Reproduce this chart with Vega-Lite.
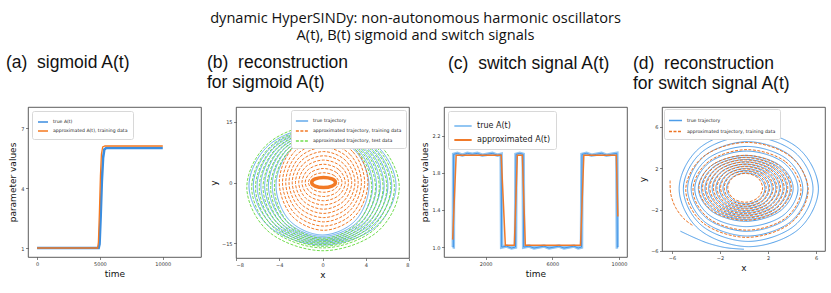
{
"$schema":"https://vega.github.io/schema/vega-lite/v6.json",
"background":"white",
"padding":{"left":5,"top":11,"right":2,"bottom":2},
"title":{"text":["dynamic HyperSINDy: non-autonomous harmonic oscillators","A(t), B(t) sigmoid and switch signals"],"font":"Open Sans","fontSize":14.6,"fontWeight":"normal","anchor":"middle","frame":"bounds","lineHeight":16.5,"offset":11,"color":"#111"},
"config":{
 "view":{"stroke":"#333","strokeWidth":0.8},
 "axis":{"grid":false,"domain":false,"labelFont":"DejaVu Sans","labelFontSize":5,"labelColor":"#333","tickColor":"#333","tickSize":2.5,"tickWidth":0.6,"labelPadding":1.5,"titleFont":"DejaVu Sans","titleFontSize":9,"titleFontWeight":"normal","titleColor":"#111","titlePadding":3},
 "title":{"font":"Liberation Sans","fontSize":17.5,"fontWeight":"normal","anchor":"start","frame":"group","color":"#111"},
 "legend":{"title":null,"fillColor":"white","strokeColor":"#d8d8d8","padding":4,"cornerRadius":2,"labelFont":"DejaVu Sans","labelFontSize":4.6,"labelColor":"#222","symbolType":"stroke","symbolSize":110,"symbolStrokeWidth":1.5,"labelOffset":4,"rowPadding":3,"labelLimit":300}
},
"resolve":{"scale":{"color":"independent","strokeDash":"independent"},"legend":{"color":"independent","strokeDash":"independent"}},
"bounds":"flush",
"spacing":35,
"hconcat":[
 {"width":173,"height":150,
  "title":{"text":"(a)\u00a0 sigmoid A(t)","dx":-22,"offset":36},
  "data":{"values":[
   {"s":"true A(t)","t":0,"v":1.0},{"s":"true A(t)","t":2500,"v":1.0},{"s":"true A(t)","t":4900,"v":1.0},{"s":"true A(t)","t":4970,"v":1.2},{"s":"true A(t)","t":5060,"v":2.6},{"s":"true A(t)","t":5150,"v":4.3},{"s":"true A(t)","t":5250,"v":5.5},{"s":"true A(t)","t":5350,"v":5.93},{"s":"true A(t)","t":5500,"v":6.0},{"s":"true A(t)","t":7500,"v":6.0},{"s":"true A(t)","t":10000,"v":6.0},
   {"s":"approximated A(t), training data","t":0,"v":1.0},{"s":"approximated A(t), training data","t":4820,"v":1.0},{"s":"approximated A(t), training data","t":4880,"v":1.3},{"s":"approximated A(t), training data","t":4960,"v":2.8},{"s":"approximated A(t), training data","t":5040,"v":4.6},{"s":"approximated A(t), training data","t":5120,"v":5.7},{"s":"approximated A(t), training data","t":5220,"v":6.05},{"s":"approximated A(t), training data","t":5400,"v":6.1},{"s":"approximated A(t), training data","t":7500,"v":6.1},{"s":"approximated A(t), training data","t":10000,"v":6.1}
  ]},
  "encoding":{
   "x":{"field":"t","type":"quantitative","scale":{"domain":[-720,13040],"nice":false,"zero":false},"axis":{"values":[0,5000,10000],"format":"d","title":"time"}},
   "y":{"field":"v","type":"quantitative","scale":{"domain":[0.55,8.05],"nice":false,"zero":false},"axis":{"values":[1,4,7],"title":"parameter values"}},
   "color":{"field":"s","type":"nominal","scale":{"domain":["true A(t)","approximated A(t), training data"],"range":["#3b8ddf","#f5781f"]},"legend":{"orient":"top-left","offset":4,"rowPadding":-1.5,"padding":5,"symbolSize":100}}
  },
  "layer":[
   {"transform":[{"filter":"datum.s == 'true A(t)'"}],"mark":{"type":"line","strokeWidth":2.6}},
   {"transform":[{"filter":"datum.s != 'true A(t)'"}],"mark":{"type":"line","strokeWidth":1.3}}
  ]
 },
 {"width":173,"height":151,
  "title":{"text":["(b)\u00a0 reconstruction","\u00a0for sigmoid A(t)"],"dx":-29,"offset":16,"lineHeight":20},
  "data":{"values":[
   {"s":"t","r":1,"x":4.3,"y":-0.8},{"s":"t","r":1,"x":3.04,"y":7.83},{"s":"t","r":1,"x":0,"y":11.4},{"s":"t","r":1,"x":-3.04,"y":7.83},{"s":"t","r":1,"x":-4.3,"y":-0.8},{"s":"t","r":1,"x":-3.04,"y":-9.43},{"s":"t","r":1,"x":0,"y":-13.0},{"s":"t","r":1,"x":3.04,"y":-9.43},
   {"s":"t","r":2,"x":4.65,"y":-0.8},{"s":"t","r":2,"x":3.29,"y":8.07},{"s":"t","r":2,"x":0,"y":11.75},{"s":"t","r":2,"x":-3.29,"y":8.07},{"s":"t","r":2,"x":-4.65,"y":-0.8},{"s":"t","r":2,"x":-3.29,"y":-9.67},{"s":"t","r":2,"x":0,"y":-13.35},{"s":"t","r":2,"x":3.29,"y":-9.67},
   {"s":"t","r":3,"x":5.0,"y":-0.8},{"s":"t","r":3,"x":3.54,"y":8.32},{"s":"t","r":3,"x":0,"y":12.1},{"s":"t","r":3,"x":-3.54,"y":8.32},{"s":"t","r":3,"x":-5.0,"y":-0.8},{"s":"t","r":3,"x":-3.54,"y":-9.92},{"s":"t","r":3,"x":0,"y":-13.7},{"s":"t","r":3,"x":3.54,"y":-9.92},
   {"s":"t","r":4,"x":5.35,"y":-0.8},{"s":"t","r":4,"x":3.78,"y":8.57},{"s":"t","r":4,"x":0,"y":12.45},{"s":"t","r":4,"x":-3.78,"y":8.57},{"s":"t","r":4,"x":-5.35,"y":-0.8},{"s":"t","r":4,"x":-3.78,"y":-10.17},{"s":"t","r":4,"x":0,"y":-14.05},{"s":"t","r":4,"x":3.78,"y":-10.17},
   {"s":"t","r":5,"x":5.7,"y":-0.8},{"s":"t","r":5,"x":4.03,"y":8.82},{"s":"t","r":5,"x":0,"y":12.8},{"s":"t","r":5,"x":-4.03,"y":8.82},{"s":"t","r":5,"x":-5.7,"y":-0.8},{"s":"t","r":5,"x":-4.03,"y":-10.42},{"s":"t","r":5,"x":0,"y":-14.4},{"s":"t","r":5,"x":4.03,"y":-10.42},
   {"s":"t","r":6,"x":6.05,"y":-0.8},{"s":"t","r":6,"x":4.28,"y":9.06},{"s":"t","r":6,"x":0,"y":13.15},{"s":"t","r":6,"x":-4.28,"y":9.06},{"s":"t","r":6,"x":-6.05,"y":-0.8},{"s":"t","r":6,"x":-4.28,"y":-10.66},{"s":"t","r":6,"x":0,"y":-14.75},{"s":"t","r":6,"x":4.28,"y":-10.66},
   {"s":"t","r":7,"x":6.4,"y":-0.8},{"s":"t","r":7,"x":4.52,"y":9.31},{"s":"t","r":7,"x":0,"y":13.5},{"s":"t","r":7,"x":-4.52,"y":9.31},{"s":"t","r":7,"x":-6.4,"y":-0.8},{"s":"t","r":7,"x":-4.52,"y":-10.91},{"s":"t","r":7,"x":0,"y":-15.1},{"s":"t","r":7,"x":4.52,"y":-10.91},
   {"s":"t","r":8,"x":6.8,"y":-0.8},{"s":"t","r":8,"x":4.81,"y":9.59},{"s":"t","r":8,"x":0,"y":13.9},{"s":"t","r":8,"x":-4.81,"y":9.59},{"s":"t","r":8,"x":-6.8,"y":-0.8},{"s":"t","r":8,"x":-4.81,"y":-11.19},{"s":"t","r":8,"x":0,"y":-15.5},{"s":"t","r":8,"x":4.81,"y":-11.19},
   {"s":"o","r":"h","x":1.2,"y":0},{"s":"o","r":"h","x":0.88,"y":0.88},{"s":"o","r":"h","x":0.1,"y":1.25},{"s":"o","r":"h","x":-0.68,"y":0.88},{"s":"o","r":"h","x":-1.0,"y":0},{"s":"o","r":"h","x":-0.68,"y":-0.88},{"s":"o","r":"h","x":0.1,"y":-1.25},{"s":"o","r":"h","x":0.88,"y":-0.88},
   {"s":"o","r":1,"x":1.5,"y":0},{"s":"o","r":1,"x":1.09,"y":1.71},{"s":"o","r":1,"x":0.1,"y":2.42},{"s":"o","r":1,"x":-0.89,"y":1.71},{"s":"o","r":1,"x":-1.3,"y":0},{"s":"o","r":1,"x":-0.89,"y":-1.71},{"s":"o","r":1,"x":0.1,"y":-2.42},{"s":"o","r":1,"x":1.09,"y":-1.71},
   {"s":"o","r":2,"x":1.8,"y":0},{"s":"o","r":2,"x":1.3,"y":2.45},{"s":"o","r":2,"x":0.1,"y":3.47},{"s":"o","r":2,"x":-1.1,"y":2.45},{"s":"o","r":2,"x":-1.6,"y":0},{"s":"o","r":2,"x":-1.1,"y":-2.45},{"s":"o","r":2,"x":0.1,"y":-3.47},{"s":"o","r":2,"x":1.3,"y":-2.45},
   {"s":"o","r":3,"x":2.1,"y":0},{"s":"o","r":3,"x":1.51,"y":3.2},{"s":"o","r":3,"x":0.1,"y":4.52},{"s":"o","r":3,"x":-1.31,"y":3.2},{"s":"o","r":3,"x":-1.9,"y":0},{"s":"o","r":3,"x":-1.31,"y":-3.2},{"s":"o","r":3,"x":0.1,"y":-4.52},{"s":"o","r":3,"x":1.51,"y":-3.2},
   {"s":"o","r":4,"x":2.4,"y":0},{"s":"o","r":4,"x":1.73,"y":3.93},{"s":"o","r":4,"x":0.1,"y":5.56},{"s":"o","r":4,"x":-1.53,"y":3.93},{"s":"o","r":4,"x":-2.2,"y":0},{"s":"o","r":4,"x":-1.53,"y":-3.93},{"s":"o","r":4,"x":0.1,"y":-5.56},{"s":"o","r":4,"x":1.73,"y":-3.93},
   {"s":"o","r":5,"x":2.7,"y":0},{"s":"o","r":5,"x":1.94,"y":4.67},{"s":"o","r":5,"x":0.1,"y":6.61},{"s":"o","r":5,"x":-1.74,"y":4.67},{"s":"o","r":5,"x":-2.5,"y":0},{"s":"o","r":5,"x":-1.74,"y":-4.67},{"s":"o","r":5,"x":0.1,"y":-6.61},{"s":"o","r":5,"x":1.94,"y":-4.67},
   {"s":"o","r":6,"x":3.0,"y":0},{"s":"o","r":6,"x":2.15,"y":5.42},{"s":"o","r":6,"x":0.1,"y":7.66},{"s":"o","r":6,"x":-1.95,"y":5.42},{"s":"o","r":6,"x":-2.8,"y":0},{"s":"o","r":6,"x":-1.95,"y":-5.42},{"s":"o","r":6,"x":0.1,"y":-7.66},{"s":"o","r":6,"x":2.15,"y":-5.42},
   {"s":"o","r":7,"x":3.3,"y":0},{"s":"o","r":7,"x":2.36,"y":6.15},{"s":"o","r":7,"x":0.1,"y":8.7},{"s":"o","r":7,"x":-2.16,"y":6.15},{"s":"o","r":7,"x":-3.1,"y":0},{"s":"o","r":7,"x":-2.16,"y":-6.15},{"s":"o","r":7,"x":0.1,"y":-8.7},{"s":"o","r":7,"x":2.36,"y":-6.15},
   {"s":"o","r":8,"x":3.6,"y":0},{"s":"o","r":8,"x":2.57,"y":6.89},{"s":"o","r":8,"x":0.1,"y":9.75},{"s":"o","r":8,"x":-2.37,"y":6.89},{"s":"o","r":8,"x":-3.4,"y":0},{"s":"o","r":8,"x":-2.37,"y":-6.89},{"s":"o","r":8,"x":0.1,"y":-9.75},{"s":"o","r":8,"x":2.57,"y":-6.89},
   {"s":"o","r":9,"x":3.9,"y":0},{"s":"o","r":9,"x":2.79,"y":7.64},{"s":"o","r":9,"x":0.1,"y":10.8},{"s":"o","r":9,"x":-2.59,"y":7.64},{"s":"o","r":9,"x":-3.7,"y":0},{"s":"o","r":9,"x":-2.59,"y":-7.64},{"s":"o","r":9,"x":0.1,"y":-10.8},{"s":"o","r":9,"x":2.79,"y":-7.64},
   {"s":"o","r":10,"x":4.2,"y":0},{"s":"o","r":10,"x":3.0,"y":8.37},{"s":"o","r":10,"x":0.1,"y":11.84},{"s":"o","r":10,"x":-2.8,"y":8.37},{"s":"o","r":10,"x":-4.0,"y":0},{"s":"o","r":10,"x":-2.8,"y":-8.37},{"s":"o","r":10,"x":0.1,"y":-11.84},{"s":"o","r":10,"x":3.0,"y":-8.37},
   {"s":"g","r":1,"x":4.55,"y":-1.2},{"s":"g","r":1,"x":3.23,"y":7.71},{"s":"g","r":1,"x":0.05,"y":11.4},{"s":"g","r":1,"x":-3.13,"y":7.71},{"s":"g","r":1,"x":-4.45,"y":-1.2},{"s":"g","r":1,"x":-3.13,"y":-10.11},{"s":"g","r":1,"x":0.05,"y":-13.8},{"s":"g","r":1,"x":3.23,"y":-10.11},
   {"s":"g","r":2,"x":4.9,"y":-1.2},{"s":"g","r":2,"x":3.48,"y":7.99},{"s":"g","r":2,"x":0.05,"y":11.8},{"s":"g","r":2,"x":-3.38,"y":7.99},{"s":"g","r":2,"x":-4.8,"y":-1.2},{"s":"g","r":2,"x":-3.38,"y":-10.39},{"s":"g","r":2,"x":0.05,"y":-14.2},{"s":"g","r":2,"x":3.48,"y":-10.39},
   {"s":"g","r":3,"x":5.25,"y":-1.2},{"s":"g","r":3,"x":3.73,"y":8.27},{"s":"g","r":3,"x":0.05,"y":12.2},{"s":"g","r":3,"x":-3.63,"y":8.27},{"s":"g","r":3,"x":-5.15,"y":-1.2},{"s":"g","r":3,"x":-3.63,"y":-10.67},{"s":"g","r":3,"x":0.05,"y":-14.6},{"s":"g","r":3,"x":3.73,"y":-10.67},
   {"s":"g","r":4,"x":5.6,"y":-1.2},{"s":"g","r":4,"x":3.97,"y":8.56},{"s":"g","r":4,"x":0.05,"y":12.6},{"s":"g","r":4,"x":-3.87,"y":8.56},{"s":"g","r":4,"x":-5.5,"y":-1.2},{"s":"g","r":4,"x":-3.87,"y":-10.96},{"s":"g","r":4,"x":0.05,"y":-15.0},{"s":"g","r":4,"x":3.97,"y":-10.96},
   {"s":"g","r":5,"x":5.95,"y":-1.2},{"s":"g","r":5,"x":4.22,"y":8.84},{"s":"g","r":5,"x":0.05,"y":13.0},{"s":"g","r":5,"x":-4.12,"y":8.84},{"s":"g","r":5,"x":-5.85,"y":-1.2},{"s":"g","r":5,"x":-4.12,"y":-11.24},{"s":"g","r":5,"x":0.05,"y":-15.4},{"s":"g","r":5,"x":4.22,"y":-11.24},
   {"s":"g","r":6,"x":6.3,"y":-1.2},{"s":"g","r":6,"x":4.47,"y":9.12},{"s":"g","r":6,"x":0.05,"y":13.4},{"s":"g","r":6,"x":-4.37,"y":9.12},{"s":"g","r":6,"x":-6.2,"y":-1.2},{"s":"g","r":6,"x":-4.37,"y":-11.52},{"s":"g","r":6,"x":0.05,"y":-15.8},{"s":"g","r":6,"x":4.47,"y":-11.52},
   {"s":"g","r":7,"x":6.65,"y":-1.2},{"s":"g","r":7,"x":4.72,"y":9.41},{"s":"g","r":7,"x":0.05,"y":13.8},{"s":"g","r":7,"x":-4.62,"y":9.41},{"s":"g","r":7,"x":-6.55,"y":-1.2},{"s":"g","r":7,"x":-4.62,"y":-11.81},{"s":"g","r":7,"x":0.05,"y":-16.2},{"s":"g","r":7,"x":4.72,"y":-11.81},
   {"s":"g","r":8,"x":7.1,"y":-1.2},{"s":"g","r":8,"x":5.03,"y":9.9},{"s":"g","r":8,"x":0.05,"y":14.5},{"s":"g","r":8,"x":-4.93,"y":9.9},{"s":"g","r":8,"x":-7.0,"y":-1.2},{"s":"g","r":8,"x":-4.93,"y":-12.3},{"s":"g","r":8,"x":0.05,"y":-16.9},{"s":"g","r":8,"x":5.03,"y":-12.3}
  ]},
  "encoding":{
   "x":{"field":"x","type":"quantitative","scale":{"domain":[-8,8],"nice":false,"zero":false},"axis":{"values":[-8,-4,0,4,8],"title":"x"}},
   "y":{"field":"y","type":"quantitative","scale":{"domain":[-18.7,18.7],"nice":false,"zero":false},"axis":{"values":[-15,0,15],"title":"y"}},
   "color":{"field":"s","type":"nominal","scale":{"domain":["t","o","g"],"range":["#64abec","#f27a26","#72dd4e"]},"legend":{"orient":"top-right","offset":3,"labelExpr":"datum.label == 't' ? 'true trajectory' : datum.label == 'o' ? 'approximated trajectory, training data' : 'approximated trajectory, test data'","symbolSize":150,"rowPadding":-4}},
   "detail":{"field":"r","type":"nominal"},
   "order":{"value":null}
  },
  "layer":[
   {"transform":[{"filter":"datum.s == 't'"}],"mark":{"type":"line","interpolate":"cardinal-closed","strokeWidth":1},"encoding":{"strokeDash":{"field":"s","type":"nominal","scale":{"domain":["t","o","g"],"range":[[1,0],[3,1.5],[3,1.5]]},"legend":{"orient":"top-right","offset":3,"labelExpr":"datum.label == 't' ? 'true trajectory' : datum.label == 'o' ? 'approximated trajectory, training data' : 'approximated trajectory, test data'","symbolSize":150,"rowPadding":-4}}}},
   {"transform":[{"filter":"datum.r == 'h'"}],"mark":{"type":"line","interpolate":"cardinal-closed","strokeWidth":3.5}},
   {"transform":[{"filter":"datum.s == 'o' && datum.r != 'h'"}],"mark":{"type":"line","interpolate":"cardinal-closed","strokeWidth":1},"encoding":{"strokeDash":{"field":"s","type":"nominal"}}},
   {"transform":[{"filter":"datum.s == 'g'"}],"mark":{"type":"line","interpolate":"cardinal-closed","strokeWidth":1},"encoding":{"strokeDash":{"field":"s","type":"nominal"}}}
  ]
 },
 {"width":183,"height":150,
  "title":{"text":"(c)\u00a0 switch signal A(t)","dx":4,"offset":35},
  "data":{"values":[
   {"s":"true A(t)","t":20,"v":1.0},{"s":"true A(t)","t":60,"v":1.0},{"s":"true A(t)","t":80,"v":2.0},{"s":"true A(t)","t":300,"v":2.01},{"s":"true A(t)","t":600,"v":1.99},{"s":"true A(t)","t":900,"v":2.01},{"s":"true A(t)","t":1200,"v":2.0},{"s":"true A(t)","t":1500,"v":2.01},{"s":"true A(t)","t":1800,"v":1.99},{"s":"true A(t)","t":2100,"v":2.0},{"s":"true A(t)","t":2400,"v":2.01},{"s":"true A(t)","t":2700,"v":1.99},{"s":"true A(t)","t":2930,"v":2.0},
   {"s":"true A(t)","t":2960,"v":1.0},{"s":"true A(t)","t":3250,"v":1.01},{"s":"true A(t)","t":3550,"v":0.99},{"s":"true A(t)","t":3790,"v":1.0},
   {"s":"true A(t)","t":3820,"v":2.0},{"s":"true A(t)","t":4050,"v":2.01},{"s":"true A(t)","t":4250,"v":2.0},
   {"s":"true A(t)","t":4280,"v":1.0},{"s":"true A(t)","t":4600,"v":1.01},{"s":"true A(t)","t":4900,"v":0.99},{"s":"true A(t)","t":5200,"v":1.0},{"s":"true A(t)","t":5500,"v":1.01},{"s":"true A(t)","t":5800,"v":0.99},{"s":"true A(t)","t":6100,"v":1.0},{"s":"true A(t)","t":6400,"v":1.01},{"s":"true A(t)","t":6700,"v":0.99},{"s":"true A(t)","t":7000,"v":1.0},{"s":"true A(t)","t":7300,"v":1.01},{"s":"true A(t)","t":7550,"v":0.99},{"s":"true A(t)","t":7750,"v":1.0},
   {"s":"true A(t)","t":7780,"v":2.0},{"s":"true A(t)","t":8050,"v":2.01},{"s":"true A(t)","t":8350,"v":1.99},{"s":"true A(t)","t":8650,"v":2.0},{"s":"true A(t)","t":8950,"v":2.01},{"s":"true A(t)","t":9250,"v":1.99},{"s":"true A(t)","t":9550,"v":2.0},{"s":"true A(t)","t":9870,"v":2.01},{"s":"true A(t)","t":9900,"v":1.0},{"s":"true A(t)","t":9950,"v":1.0},
   {"s":"approximated A(t)","t":20,"v":1.08},{"s":"approximated A(t)","t":230,"v":1.99},{"s":"approximated A(t)","t":1000,"v":1.99},{"s":"approximated A(t)","t":2000,"v":1.99},{"s":"approximated A(t)","t":2930,"v":1.99},{"s":"approximated A(t)","t":3180,"v":1.02},{"s":"approximated A(t)","t":3720,"v":1.02},{"s":"approximated A(t)","t":3900,"v":1.99},{"s":"approximated A(t)","t":4200,"v":1.99},{"s":"approximated A(t)","t":4380,"v":1.02},{"s":"approximated A(t)","t":6000,"v":1.02},{"s":"approximated A(t)","t":7690,"v":1.02},{"s":"approximated A(t)","t":7890,"v":1.99},{"s":"approximated A(t)","t":9000,"v":1.99},{"s":"approximated A(t)","t":9840,"v":1.99},{"s":"approximated A(t)","t":9930,"v":1.33}
  ]},
  "encoding":{
   "x":{"field":"t","type":"quantitative","scale":{"domain":[-500,10480],"nice":false,"zero":false},"axis":{"values":[2000,6000,10000],"format":"d","title":"time"}},
   "y":{"field":"v","type":"quantitative","scale":{"domain":[0.893,2.51],"nice":false,"zero":false},"axis":{"values":[1.0,1.4,1.8,2.2],"format":".1f","title":"parameter values"}}
  },
  "layer":[
   {"transform":[{"filter":"datum.s == 'true A(t)'"}],"mark":{"type":"line","strokeWidth":3.5},"encoding":{"color":{"field":"s","type":"nominal","scale":{"domain":["true A(t)","approximated A(t)"],"range":["#92c6f3","#f07a2a"]},"legend":{"orient":"top-left","offset":4,"labelFontSize":8,"symbolSize":300,"symbolStrokeWidth":2,"rowPadding":-4,"padding":5}}}},
   {"transform":[{"filter":"datum.s == 'true A(t)'"}],"mark":{"type":"line","strokeWidth":0.9,"color":"#3a8de4"}},
   {"transform":[{"filter":"datum.s != 'true A(t)'"}],"mark":{"type":"line","strokeWidth":1.5},"encoding":{"color":{"field":"s","type":"nominal"}}}
  ]
 },
 {"width":163,"height":144,
  "title":{"text":["(d)\u00a0 reconstruction","for switch signal A(t)"],"dx":-29,"offset":15,"lineHeight":20},
  "data":{"values":[
   {"s":"t","r":1,"x":1.75,"y":0.05},{"s":"t","r":1,"x":1.28,"y":1.11},{"s":"t","r":1,"x":0.15,"y":1.55},{"s":"t","r":1,"x":-0.98,"y":1.11},{"s":"t","r":1,"x":-1.45,"y":0.05},{"s":"t","r":1,"x":-0.98,"y":-1.01},{"s":"t","r":1,"x":0.15,"y":-1.45},{"s":"t","r":1,"x":1.28,"y":-1.01},
   {"s":"t","r":2,"x":2.05,"y":0.05},{"s":"t","r":2,"x":1.49,"y":1.27},{"s":"t","r":2,"x":0.15,"y":1.77},{"s":"t","r":2,"x":-1.19,"y":1.27},{"s":"t","r":2,"x":-1.75,"y":0.05},{"s":"t","r":2,"x":-1.19,"y":-1.17},{"s":"t","r":2,"x":0.15,"y":-1.67},{"s":"t","r":2,"x":1.49,"y":-1.17},
   {"s":"t","r":3,"x":2.35,"y":0.05},{"s":"t","r":3,"x":1.71,"y":1.41},{"s":"t","r":3,"x":0.15,"y":1.98},{"s":"t","r":3,"x":-1.41,"y":1.41},{"s":"t","r":3,"x":-2.05,"y":0.05},{"s":"t","r":3,"x":-1.41,"y":-1.31},{"s":"t","r":3,"x":0.15,"y":-1.88},{"s":"t","r":3,"x":1.71,"y":-1.31},
   {"s":"t","r":4,"x":2.65,"y":0.05},{"s":"t","r":4,"x":1.92,"y":1.57},{"s":"t","r":4,"x":0.15,"y":2.2},{"s":"t","r":4,"x":-1.62,"y":1.57},{"s":"t","r":4,"x":-2.35,"y":0.05},{"s":"t","r":4,"x":-1.62,"y":-1.47},{"s":"t","r":4,"x":0.15,"y":-2.1},{"s":"t","r":4,"x":1.92,"y":-1.47},
   {"s":"t","r":5,"x":2.95,"y":0.05},{"s":"t","r":5,"x":2.13,"y":1.72},{"s":"t","r":5,"x":0.15,"y":2.41},{"s":"t","r":5,"x":-1.83,"y":1.72},{"s":"t","r":5,"x":-2.65,"y":0.05},{"s":"t","r":5,"x":-1.83,"y":-1.62},{"s":"t","r":5,"x":0.15,"y":-2.31},{"s":"t","r":5,"x":2.13,"y":-1.62},
   {"s":"t","r":6,"x":3.25,"y":0.05},{"s":"t","r":6,"x":2.34,"y":1.87},{"s":"t","r":6,"x":0.15,"y":2.63},{"s":"t","r":6,"x":-2.04,"y":1.87},{"s":"t","r":6,"x":-2.95,"y":0.05},{"s":"t","r":6,"x":-2.04,"y":-1.77},{"s":"t","r":6,"x":0.15,"y":-2.53},{"s":"t","r":6,"x":2.34,"y":-1.77},
   {"s":"t","r":7,"x":3.55,"y":0.05},{"s":"t","r":7,"x":2.55,"y":2.03},{"s":"t","r":7,"x":0.15,"y":2.85},{"s":"t","r":7,"x":-2.25,"y":2.03},{"s":"t","r":7,"x":-3.25,"y":0.05},{"s":"t","r":7,"x":-2.25,"y":-1.93},{"s":"t","r":7,"x":0.15,"y":-2.75},{"s":"t","r":7,"x":2.55,"y":-1.93},
   {"s":"t","r":8,"x":3.85,"y":0.05},{"s":"t","r":8,"x":2.77,"y":2.18},{"s":"t","r":8,"x":0.15,"y":3.06},{"s":"t","r":8,"x":-2.47,"y":2.18},{"s":"t","r":8,"x":-3.55,"y":0.05},{"s":"t","r":8,"x":-2.47,"y":-2.08},{"s":"t","r":8,"x":0.15,"y":-2.96},{"s":"t","r":8,"x":2.77,"y":-2.08},
   {"s":"t","r":9,"x":4.1,"y":0.05},{"s":"t","r":9,"x":2.94,"y":2.31},{"s":"t","r":9,"x":0.15,"y":3.24},{"s":"t","r":9,"x":-2.64,"y":2.31},{"s":"t","r":9,"x":-3.8,"y":0.05},{"s":"t","r":9,"x":-2.64,"y":-2.21},{"s":"t","r":9,"x":0.15,"y":-3.14},{"s":"t","r":9,"x":2.94,"y":-2.21},
   {"s":"t","r":10,"x":4.5,"y":0},{"s":"t","r":10,"x":3.24,"y":2.59},{"s":"t","r":10,"x":0.2,"y":3.66},{"s":"t","r":10,"x":-2.84,"y":2.59},{"s":"t","r":10,"x":-4.1,"y":0},{"s":"t","r":10,"x":-2.84,"y":-2.59},{"s":"t","r":10,"x":0.2,"y":-3.66},{"s":"t","r":10,"x":3.24,"y":-2.59},
   {"s":"t","r":11,"x":4.9,"y":0},{"s":"t","r":11,"x":3.54,"y":2.91},{"s":"t","r":11,"x":0.25,"y":4.11},{"s":"t","r":11,"x":-3.04,"y":2.91},{"s":"t","r":11,"x":-4.4,"y":0},{"s":"t","r":11,"x":-3.04,"y":-2.91},{"s":"t","r":11,"x":0.25,"y":-4.11},{"s":"t","r":11,"x":3.54,"y":-2.91},
   {"s":"t","r":12,"x":5.3,"y":0},{"s":"t","r":12,"x":3.84,"y":3.23},{"s":"t","r":12,"x":0.3,"y":4.57},{"s":"t","r":12,"x":-3.24,"y":3.23},{"s":"t","r":12,"x":-4.7,"y":0},{"s":"t","r":12,"x":-3.24,"y":-3.23},{"s":"t","r":12,"x":0.3,"y":-4.57},{"s":"t","r":12,"x":3.84,"y":-3.23},
   {"s":"t","r":13,"x":5.75,"y":0},{"s":"t","r":13,"x":4.17,"y":3.6},{"s":"t","r":13,"x":0.35,"y":5.09},{"s":"t","r":13,"x":-3.47,"y":3.6},{"s":"t","r":13,"x":-5.05,"y":0},{"s":"t","r":13,"x":-3.47,"y":-3.6},{"s":"t","r":13,"x":0.35,"y":-5.09},{"s":"t","r":13,"x":4.17,"y":-3.6},
   {"s":"t","r":14,"x":6.2,"y":0},{"s":"t","r":14,"x":4.5,"y":3.96},{"s":"t","r":14,"x":0.4,"y":5.6},{"s":"t","r":14,"x":-3.7,"y":3.96},{"s":"t","r":14,"x":-5.4,"y":0},{"s":"t","r":14,"x":-3.7,"y":-3.96},{"s":"t","r":14,"x":0.4,"y":-5.6},{"s":"t","r":14,"x":4.5,"y":-3.96},
   {"s":"t","r":"arc","x":-5.3,"y":-4.1},{"s":"t","r":"arc","x":-4.0,"y":-4.8},{"s":"t","r":"arc","x":-2.9,"y":-5.3},{"s":"t","r":"arc","x":-1.5,"y":-5.7},{"s":"t","r":"arc","x":0.0,"y":-5.85},
   {"s":"o","r":1,"x":1.55,"y":0.1},{"s":"o","r":1,"x":1.13,"y":1.09},{"s":"o","r":1,"x":0.1,"y":1.5},{"s":"o","r":1,"x":-0.93,"y":1.09},{"s":"o","r":1,"x":-1.35,"y":0.1},{"s":"o","r":1,"x":-0.93,"y":-0.89},{"s":"o","r":1,"x":0.1,"y":-1.3},{"s":"o","r":1,"x":1.13,"y":-0.89},
   {"s":"o","r":2,"x":1.85,"y":0.1},{"s":"o","r":2,"x":1.34,"y":1.25},{"s":"o","r":2,"x":0.1,"y":1.72},{"s":"o","r":2,"x":-1.14,"y":1.25},{"s":"o","r":2,"x":-1.65,"y":0.1},{"s":"o","r":2,"x":-1.14,"y":-1.05},{"s":"o","r":2,"x":0.1,"y":-1.52},{"s":"o","r":2,"x":1.34,"y":-1.05},
   {"s":"o","r":3,"x":2.15,"y":0.1},{"s":"o","r":3,"x":1.55,"y":1.4},{"s":"o","r":3,"x":0.1,"y":1.94},{"s":"o","r":3,"x":-1.35,"y":1.4},{"s":"o","r":3,"x":-1.95,"y":0.1},{"s":"o","r":3,"x":-1.35,"y":-1.2},{"s":"o","r":3,"x":0.1,"y":-1.74},{"s":"o","r":3,"x":1.55,"y":-1.2},
   {"s":"o","r":4,"x":2.45,"y":0.1},{"s":"o","r":4,"x":1.76,"y":1.56},{"s":"o","r":4,"x":0.1,"y":2.16},{"s":"o","r":4,"x":-1.56,"y":1.56},{"s":"o","r":4,"x":-2.25,"y":0.1},{"s":"o","r":4,"x":-1.56,"y":-1.36},{"s":"o","r":4,"x":0.1,"y":-1.96},{"s":"o","r":4,"x":1.76,"y":-1.36},
   {"s":"o","r":5,"x":2.75,"y":0.1},{"s":"o","r":5,"x":1.97,"y":1.71},{"s":"o","r":5,"x":0.1,"y":2.38},{"s":"o","r":5,"x":-1.77,"y":1.71},{"s":"o","r":5,"x":-2.55,"y":0.1},{"s":"o","r":5,"x":-1.77,"y":-1.51},{"s":"o","r":5,"x":0.1,"y":-2.18},{"s":"o","r":5,"x":1.97,"y":-1.51},
   {"s":"o","r":6,"x":3.05,"y":0.1},{"s":"o","r":6,"x":2.19,"y":1.87},{"s":"o","r":6,"x":0.1,"y":2.6},{"s":"o","r":6,"x":-1.99,"y":1.87},{"s":"o","r":6,"x":-2.85,"y":0.1},{"s":"o","r":6,"x":-1.99,"y":-1.67},{"s":"o","r":6,"x":0.1,"y":-2.4},{"s":"o","r":6,"x":2.19,"y":-1.67},
   {"s":"o","r":7,"x":3.35,"y":0.1},{"s":"o","r":7,"x":2.4,"y":2.02},{"s":"o","r":7,"x":0.1,"y":2.81},{"s":"o","r":7,"x":-2.2,"y":2.02},{"s":"o","r":7,"x":-3.15,"y":0.1},{"s":"o","r":7,"x":-2.2,"y":-1.82},{"s":"o","r":7,"x":0.1,"y":-2.61},{"s":"o","r":7,"x":2.4,"y":-1.82},
   {"s":"o","r":8,"x":3.65,"y":0.1},{"s":"o","r":8,"x":2.61,"y":2.17},{"s":"o","r":8,"x":0.1,"y":3.03},{"s":"o","r":8,"x":-2.41,"y":2.17},{"s":"o","r":8,"x":-3.45,"y":0.1},{"s":"o","r":8,"x":-2.41,"y":-1.97},{"s":"o","r":8,"x":0.1,"y":-2.83},{"s":"o","r":8,"x":2.61,"y":-1.97},
   {"s":"o","r":9,"x":3.95,"y":0.1},{"s":"o","r":9,"x":2.82,"y":2.33},{"s":"o","r":9,"x":0.1,"y":3.25},{"s":"o","r":9,"x":-2.62,"y":2.33},{"s":"o","r":9,"x":-3.75,"y":0.1},{"s":"o","r":9,"x":-2.62,"y":-2.13},{"s":"o","r":9,"x":0.1,"y":-3.05},{"s":"o","r":9,"x":2.82,"y":-2.13},
   {"s":"o","r":10,"x":4.75,"y":-0.1},{"s":"o","r":10,"x":3.43,"y":2.66},{"s":"o","r":10,"x":0.25,"y":3.8},{"s":"o","r":10,"x":-2.93,"y":2.66},{"s":"o","r":10,"x":-4.25,"y":-0.1},{"s":"o","r":10,"x":-2.93,"y":-2.86},{"s":"o","r":10,"x":0.25,"y":-4.0},{"s":"o","r":10,"x":3.43,"y":-2.86},
   {"s":"o","r":11,"x":5.35,"y":-0.1},{"s":"o","r":11,"x":3.86,"y":3.15},{"s":"o","r":11,"x":0.25,"y":4.5},{"s":"o","r":11,"x":-3.36,"y":3.15},{"s":"o","r":11,"x":-4.85,"y":-0.1},{"s":"o","r":11,"x":-3.36,"y":-3.35},{"s":"o","r":11,"x":0.25,"y":-4.7},{"s":"o","r":11,"x":3.86,"y":-3.35},
   {"s":"o","r":"arc","x":-6.15,"y":0.8},{"s":"o","r":"arc","x":-6.1,"y":-0.5},{"s":"o","r":"arc","x":-5.7,"y":-1.8},{"s":"o","r":"arc","x":-5.0,"y":-2.9},{"s":"o","r":"arc","x":-4.2,"y":-3.6}
  ]},
  "encoding":{
   "x":{"field":"x","type":"quantitative","scale":{"domain":[-6.83,6.75],"nice":false,"zero":false},"axis":{"values":[-6,-2,2,6],"title":"x"}},
   "y":{"field":"y","type":"quantitative","scale":{"domain":[-6.02,7.93],"nice":false,"zero":false},"axis":{"values":[-6,-2,2,6],"title":"y"}},
   "color":{"field":"s","type":"nominal","scale":{"domain":["t","o"],"range":["#4d9de9","#ec7424"]},"legend":{"orient":"top-left","offset":2,"labelExpr":"datum.label == 't' ? 'true trajectory' : 'approximated trajectory, training data'","symbolSize":170,"rowPadding":-4}},
   "strokeDash":{"field":"s","type":"nominal","scale":{"domain":["t","o"],"range":[[1,0],[3,1.5]]},"legend":{"orient":"top-left","offset":2,"labelExpr":"datum.label == 't' ? 'true trajectory' : 'approximated trajectory, training data'","symbolSize":170,"rowPadding":-4}},
   "detail":{"field":"r","type":"nominal"},
   "order":{"value":null}
  },
  "layer":[
   {"transform":[{"filter":"datum.s == 't' && datum.r != 'arc'"}],"mark":{"type":"line","interpolate":"cardinal-closed","strokeWidth":1}},
   {"transform":[{"filter":"datum.s == 't' && datum.r == 'arc'"}],"mark":{"type":"line","interpolate":"cardinal","strokeWidth":1}},
   {"transform":[{"filter":"datum.s == 'o' && datum.r != 'arc'"}],"mark":{"type":"line","interpolate":"cardinal-closed","strokeWidth":1}},
   {"transform":[{"filter":"datum.s == 'o' && datum.r == 'arc'"}],"mark":{"type":"line","interpolate":"cardinal","strokeWidth":1}}
  ]
 }
]
}
